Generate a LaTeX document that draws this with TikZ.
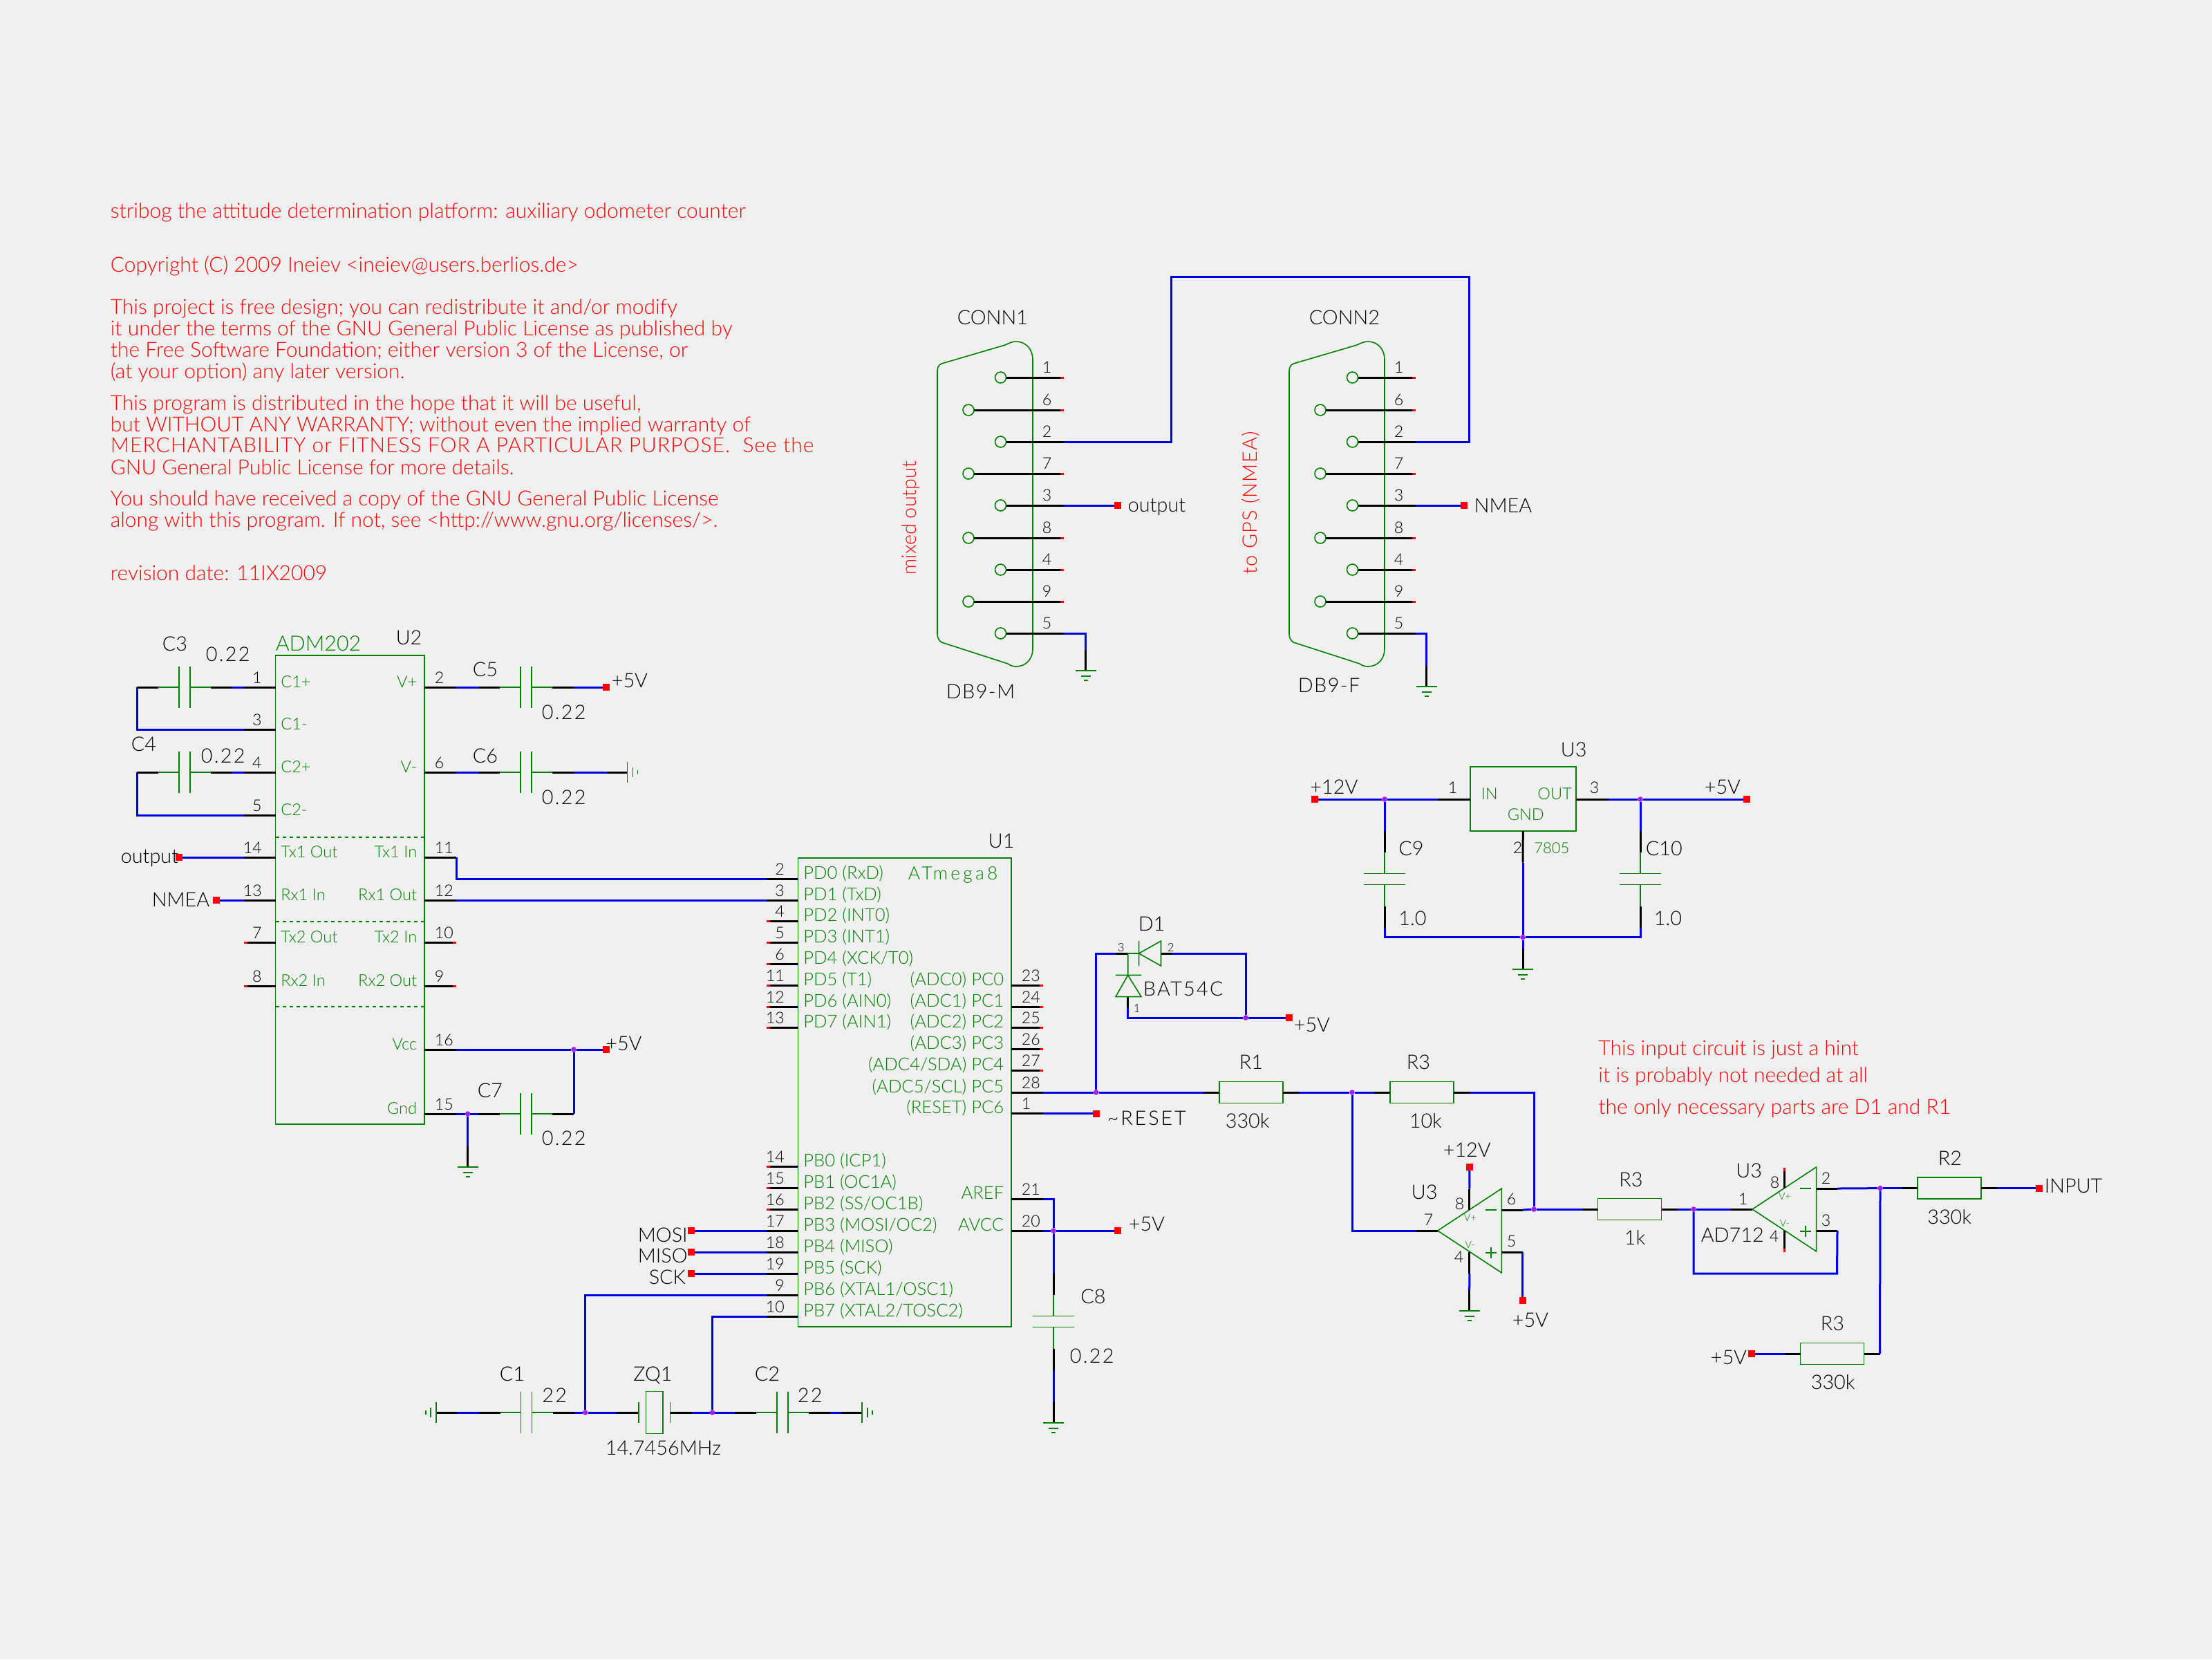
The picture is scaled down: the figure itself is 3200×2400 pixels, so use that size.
\documentclass[tikz,border=0pt]{standalone}
\usepackage{fontspec}
\setmainfont{Lato Light}
\definecolor{sheetgray}{HTML}{F0F0F0}
\definecolor{netblue}{HTML}{0000E8}
\definecolor{symgreen}{HTML}{008000}
\definecolor{juncpurple}{HTML}{A020F0}

% pin on the left or right side of a chip: name, edge x, y, number, label
\newcommand{\pinl}[5]{
  \coordinate (#1) at (#2-46,#3);
  \draw[pinline] (#2,#3) -- (#1);
  \node[pinnum, anchor=base east] (#1N) at (#2-19,#3-6) {#4};
  \node[txtgreen] (#1T) at (#2+7,#3) {#5};
}
\newcommand{\pinr}[5]{
  \coordinate (#1) at (#2+46,#3);
  \draw[pinline] (#2,#3) -- (#1);
  \node[pinnum] (#1N) at (#2+14,#3-6) {#4};
  \node[txtgreen, anchor=base east] (#1T) at (#2-10,#3) {#5};
}
% capacitors: name, centre x, centre y
\newcommand{\caph}[3]{
  \coordinate (#1L) at (#2-69,#3);
  \coordinate (#1R) at (#2+69,#3);
  \draw[pinline] (#1L) -- (#2-38,#3) (#2+38,#3) -- (#1R);
  \draw[sym] (#2-38,#3) -- (#2-8,#3) (#2-8,#3-30) -- (#2-8,#3+30);
  \draw[sym] (#2+38,#3) -- (#2+8,#3) (#2+8,#3-30) -- (#2+8,#3+30);
}
\newcommand{\capv}[3]{
  \coordinate (#1T) at (#2,#3-70);
  \coordinate (#1B) at (#2,#3+70);
  \draw[pinline] (#1T) -- (#2,#3-39) (#2,#3+39) -- (#1B);
  \draw[sym] (#2,#3-39) -- (#2,#3-8) (#2-30,#3-8) -- (#2+30,#3-8);
  \draw[sym] (#2,#3+39) -- (#2,#3+8) (#2-30,#3+8) -- (#2+30,#3+8);
}
% resistor: name, centre x, y
\newcommand{\resh}[3]{
  \node[resbox] (#1) at (#2,#3) {};
  \draw[pinline] (#1.west) -- ++(-23,0) coordinate (#1L);
  \draw[pinline] (#1.east) -- ++(23,0) coordinate (#1R);
}
% ground: name, x, y of the long bar
\newcommand{\gndd}[3]{
  \coordinate (#1) at (#2,#3-30);
  \draw[pinline] (#1) -- (#2,#3);
  \draw[sym] (#2-15,#3) -- (#2+15,#3) (#2-7,#3+8) -- (#2+7,#3+8) (#2-3,#3+14) -- (#2+3,#3+14);
}
\newcommand{\gndr}[3]{
  \coordinate (#1) at (#2-30,#3);
  \draw[pinline] (#1) -- (#2,#3);
  \draw[sym] (#2,#3-15) -- (#2,#3+15) (#2+8,#3-7) -- (#2+8,#3+7) (#2+15,#3-3) -- (#2+15,#3+3);
}
\newcommand{\gndl}[3]{
  \coordinate (#1) at (#2+30,#3);
  \draw[pinline] (#1) -- (#2,#3);
  \draw[sym] (#2,#3-15) -- (#2,#3+15) (#2-8,#3-7) -- (#2-8,#3+7) (#2-15,#3-3) -- (#2-15,#3+3);
}
% opamp: name, tip x, tip y
\newcommand{\opamp}[3]{
  \draw[sym] (#2,#3) -- (#2+92.6,#3-61) -- (#2+92.6,#3+61) -- cycle;
  \draw[sym] (#2+69,#3-30) -- (#2+85,#3-30) (#2+69,#3+32) -- (#2+85,#3+32) (#2+77,#3+24) -- (#2+77,#3+40);
  \coordinate (#1IN) at (#2-31,#3);
  \coordinate (#1A) at (#2+123,#3-30);
  \coordinate (#1B) at (#2+123,#3+31);
  \coordinate (#1VP) at (#2+46,#3-60.5);
  \coordinate (#1VM) at (#2+46,#3+62);
  \draw[pinline] (#1IN) -- (#2,#3);
  \draw[pinline] (#2+92.6,#3-30) -- (#1A);
  \draw[pinline] (#2+92.6,#3+31) -- (#1B);
  \draw[pinline] (#2+46,#3-30) -- (#1VP);
  \draw[pinline] (#2+46,#3+31) -- (#1VM);
  \node[txttiny] (#1TP) at (#2+47,#3-19) {V+};
  \node[txttiny] (#1TM) at (#2+47,#3+20) {V-};
}

\begin{document}
\begin{tikzpicture}[
    x=0.25pt, y=-0.25pt,
    pinline/.style={draw=black, line width=0.75pt},
    opentip/.style={draw=red, line width=0.75pt},
    wire/.style={draw=netblue, line width=0.75pt},
    sym/.style={draw=symgreen, line width=0.4pt},
    chip/.style={draw=symgreen, line width=0.4pt, inner sep=0pt, outer sep=0pt, anchor=north west},
    resbox/.style={draw=symgreen, line width=0.4pt, inner sep=0pt, outer sep=0pt, minimum width=23pt, minimum height=7.75pt},
    term/.style={fill=red, inner sep=0pt, outer sep=0pt, minimum size=2.5pt},
    junc/.style={circle, fill=juncpurple, inner sep=0pt, outer sep=0pt, minimum size=1.9pt},
    txtblack/.style={text=black, inner sep=0pt, anchor=base west, font=\fontsize{7.2}{9}\selectfont},
    txtspace/.style={font=\fontsize{7.2}{9}\selectfont\addfontfeature{LetterSpace=#1}},
    txtred/.style={text=red, inner sep=0pt, anchor=base west, font=\fontsize{7.5}{9}\selectfont},
    txtgreen/.style={text=symgreen, inner sep=0pt, anchor=base west, font=\fontsize{5.9}{7}\selectfont},
    txttiny/.style={text=symgreen, inner sep=0pt, font=\fontsize{3.6}{5}\selectfont},
    pinnum/.style={text=black, inner sep=0pt, anchor=base west, font=\fontsize{5.8}{7}\selectfont}
  ]
  \fill[sheetgray] (0,0) rectangle (3200,2400);

  % header text
  \node[txtred] (TITLE) at (159,315.5) {stribog the attitude determination platform: auxiliary odometer counter};
  \node[txtred] (COPY) at (159,393) {Copyright (C) 2009 Ineiev <ineiev@users.berlios.de>};
  \node[txtred] (LICA) at (159,454) {This project is free design; you can redistribute it and/or modify};
  \node[txtred] (LICB) at (159,485) {it under the terms of the GNU General Public License as published by};
  \node[txtred] (LICC) at (159,516) {the Free Software Foundation; either version 3 of the License, or};
  \node[txtred] (LICD) at (159,547) {(at your option) any later version.};
  \node[txtred] (LICE) at (159,593) {This program is distributed in the hope that it will be useful,};
  \node[txtred] (LICF) at (159,624) {but WITHOUT ANY WARRANTY; without even the implied warranty of};
  \node[txtred, font=\fontsize{7.5}{9}\selectfont\addfontfeature{LetterSpace=3.5}] (LICG) at (159,654) {MERCHANTABILITY or FITNESS FOR A PARTICULAR PURPOSE.\ \ See the};
  \node[txtred] (LICH) at (159,686) {GNU General Public License for more details.};
  \node[txtred] (LICI) at (159,731) {You should have received a copy of the GNU General Public License};
  \node[txtred] (LICJ) at (159,762) {along with this program. If not, see <http://www.gnu.org/licenses/>.};
  \node[txtred] (REVDATE) at (159,839) {revision date: 11IX2009};

  % connectors
  \foreach \c/\dx in {A/0,B/509}{
    \draw[sym] (1356+\dx,917) -- (1356+\dx,537) .. controls (1356+\dx,531) and (1358+\dx,528) .. (1362+\dx,526)
      -- (1454+\dx,499) .. controls (1462+\dx,495) and (1466+\dx,494) .. (1470+\dx,494)
      .. controls (1484+\dx,494) and (1494+\dx,505) .. (1494+\dx,520) -- (1494+\dx,939)
      .. controls (1494+\dx,953) and (1484+\dx,964) .. (1470+\dx,964)
      .. controls (1466+\dx,964) and (1462+\dx,963) .. (1458+\dx,960)
      -- (1362+\dx,929) .. controls (1358+\dx,926) and (1356+\dx,922) .. (1356+\dx,917);
    \foreach \num/\y/\cx in {1/546/1447.5,6/593/1401,2/639/1447.5,7/685/1401,3/731/1447.5,8/778/1401,4/824/1447.5,9/870/1401,5/916/1447.5}{
      \coordinate (CONN\c\num) at (1539+\dx,\y);
      \draw[sym] (\cx+\dx,\y) circle [radius=2pt];
      \draw[pinline] (\cx+8+\dx,\y) -- (CONN\c\num);
      \node[pinnum] (CONN\c\num N) at (1507+\dx,\y-7) {\num};
    }
    \foreach \num/\y in {1/546,6/593,7/685,8/778,4/824,9/870}{
      \draw[opentip] (CONN\c\num) -- ++(-5,0);
    }
  }
  \node[txtblack] (CONNAT) at (1384,469) {CONN1};
  \node[txtblack] (CONNBT) at (1893,469) {CONN2};
  \node[txtblack, txtspace=5] (DBM) at (1368,1010) {DB9-M};
  \node[txtblack, txtspace=5] (DBF) at (1877,1001) {DB9-F};
  \node[txtred, font=\fontsize{7.2}{9}\selectfont, rotate=90] (MIXED) at (1325,832) {mixed output};
  \node[txtred, txtspace=4.5, rotate=90] (TOGPS) at (1818,831) {to GPS (NMEA)};
  \coordinate (JOGA) at (1694,400);
  \coordinate (JOGB) at (2125,400);
  \draw[wire] (CONNA2) -| (JOGA) -- (JOGB) |- (CONNB2);
  \node[term] (TOUTC) at (1617,731) {};
  \node[term] (TNMEAC) at (2118,731) {};
  \draw[wire] (CONNA3) -- (TOUTC);
  \draw[wire] (CONNB3) -- (TNMEAC);
  \node[txtblack] (LOUTC) at (1631,740) {output};
  \node[txtblack] (LNMEAC) at (2132,741) {NMEA};
  \gndd{GNDA}{1570.6}{970}
  \gndd{GNDB}{2063.6}{993}
  \draw[wire] (CONNA5) -| (GNDA);
  \draw[wire] (CONNB5) -| (GNDB);

  % ADM202
  \node[chip, minimum width=53.9pt, minimum height=169.5pt] (U2) at (398.5,948) {};
  \draw[sym, dash pattern=on 1.4pt off 1.1pt] (398.5,1211) -- (614,1211) (398.5,1333) -- (614,1333) (398.5,1456) -- (614,1456);
  \node[txtgreen, font=\fontsize{7.6}{9}\selectfont] (U2NAME) at (398,941) {ADM202};
  \node[txtblack] (U2REF) at (572,932.6) {U2};
  \pinl{U2CAP}{398.5}{994}{1}{C1+}
  \pinl{U2CAM}{398.5}{1055}{3}{C1-}
  \pinl{U2CBP}{398.5}{1117}{4}{C2+}
  \pinl{U2CBM}{398.5}{1179}{5}{C2-}
  \pinl{U2TXO}{398.5}{1240}{14}{Tx1 Out}
  \pinl{U2RXI}{398.5}{1302}{13}{Rx1 In}
  \pinl{U2TYO}{398.5}{1363.5}{7}{Tx2 Out}
  \pinl{U2RYI}{398.5}{1426}{8}{Rx2 In}
  \pinr{U2VP}{614}{994}{2}{V+}
  \pinr{U2VM}{614}{1117}{6}{V-}
  \pinr{U2TXI}{614}{1240}{11}{Tx1 In}
  \pinr{U2RXO}{614}{1302}{12}{Rx1 Out}
  \pinr{U2TYI}{614}{1363.5}{10}{Tx2 In}
  \pinr{U2RYO}{614}{1426}{9}{Rx2 Out}
  \pinr{U2VCC}{614}{1518}{16}{Vcc}
  \pinr{U2GND}{614}{1611}{15}{Gnd}
  \draw[opentip] (U2TYO) -- ++(5,0);
  \draw[opentip] (U2RYI) -- ++(5,0);
  \draw[opentip] (U2TYI) -- ++(-5,0);
  \draw[opentip] (U2RYO) -- ++(-5,0);
  \caph{C3}{267}{994}
  \caph{C4}{267}{1117}
  \caph{C5}{761}{994}
  \caph{C6}{761}{1117}
  \caph{C7}{761}{1611}
  \node[txtblack] (C3N) at (234,941) {C3};
  \node[txtblack, txtspace=8] (C3V) at (297,956) {0.22};
  \node[txtblack] (C4N) at (189,1086) {C4};
  \node[txtblack, txtspace=8] (C4V) at (290,1103) {0.22};
  \node[txtblack] (C5N) at (683,978.6) {C5};
  \node[txtblack, txtspace=8] (C5V) at (783,1040) {0.22};
  \node[txtblack] (C6N) at (683,1103) {C6};
  \node[txtblack, txtspace=8] (C6V) at (783,1163.5) {0.22};
  \node[txtblack] (C7N) at (690,1587) {C7};
  \node[txtblack, txtspace=8] (C7V) at (783,1656.7) {0.22};
  \draw[wire] (C3R) -- (U2CAP);
  \draw[wire] (C3L) |- (U2CAM);
  \draw[wire] (C4R) -- (U2CBP);
  \draw[wire] (C4L) |- (U2CBM);
  \node[term] (TPWA) at (877,994) {};
  \node[txtblack] (LPWA) at (884,994) {+5V};
  \draw[wire] (U2VP) -- (C5L);
  \draw[wire] (C5R) -- (TPWA);
  \gndr{GNDCS}{907.5}{1117}
  \draw[wire] (U2VM) -- (C6L);
  \draw[wire] (C6R) -- (GNDCS);
  \node[term] (TOUTU) at (259,1240) {};
  \node[term] (TNMEAU) at (313,1302) {};
  \node[txtblack] (LOUTU) at (174,1248.6) {output};
  \node[txtblack] (LNMEAU) at (219,1311) {NMEA};
  \draw[wire] (TOUTU) -- (U2TXO);
  \draw[wire] (TNMEAU) -- (U2RXI);
  \node[junc] (JVCC) at (830,1518) {};
  \node[junc] (JGND) at (676.6,1611) {};
  \node[term] (TPWB) at (877,1518) {};
  \node[txtblack] (LPWB) at (875.5,1519) {+5V};
  \draw[wire] (U2VCC) -- (JVCC);
  \draw[wire] (JVCC) -- (TPWB);
  \draw[wire] (U2GND) -- (JGND);
  \draw[wire] (JGND) -- (C7L);
  \draw[wire] (C7R) -- (JVCC);
  \gndd{GNDU}{676.6}{1688}
  \draw[wire] (JGND) -- (GNDU);

  % ATmega8
  \node[chip, minimum width=77.1pt, minimum height=169.6pt] (U1) at (1154.6,1240.7) {};
  \node[txtgreen, font=\fontsize{6.6}{8}\selectfont\addfontfeature{LetterSpace=16}] (U1NAME) at (1313,1272) {ATmega8};
  \node[txtblack] (U1REF) at (1429,1226) {U1};
  \begin{scope}[txtgreen/.append style={font=\fontsize{6.4}{8}\selectfont}]
    \pinl{U1PDA}{1154.6}{1271}{2}{PD0 (RxD)}
    \pinl{U1PDB}{1154.6}{1302}{3}{PD1 (TxD)}
    \pinl{U1PDC}{1154.6}{1332.5}{4}{PD2 (INT0)}
    \pinl{U1PDD}{1154.6}{1363.6}{5}{PD3 (INT1)}
    \pinl{U1PDE}{1154.6}{1394.7}{6}{PD4 (XCK/T0)}
    \pinl{U1PDF}{1154.6}{1425}{11}{PD5 (T1)}
    \pinl{U1PDG}{1154.6}{1456}{12}{PD6 (AIN0)}
    \pinl{U1PDH}{1154.6}{1486.6}{13}{PD7 (AIN1)}
    \pinl{U1PBA}{1154.6}{1687.6}{14}{PB0 (ICP1)}
    \pinl{U1PBB}{1154.6}{1718.7}{15}{PB1 (OC1A)}
    \pinl{U1PBC}{1154.6}{1749}{16}{PB2 (SS/OC1B)}
    \pinl{U1PBD}{1154.6}{1780}{17}{PB3 (MOSI/OC2)}
    \pinl{U1PBE}{1154.6}{1811}{18}{PB4 (MISO)}
    \pinl{U1PBF}{1154.6}{1842}{19}{PB5 (SCK)}
    \pinl{U1PBG}{1154.6}{1873}{9}{PB6 (XTAL1/OSC1)}
    \pinl{U1PBH}{1154.6}{1904}{10}{PB7 (XTAL2/TOSC2)}
    \pinr{U1PCA}{1463}{1425}{23}{(ADC0) PC0}
    \pinr{U1PCB}{1463}{1456}{24}{(ADC1) PC1}
    \pinr{U1PCC}{1463}{1486.6}{25}{(ADC2) PC2}
    \pinr{U1PCD}{1463}{1517.7}{26}{(ADC3) PC3}
    \pinr{U1PCE}{1463}{1548.8}{27}{(ADC4/SDA) PC4}
    \pinr{U1PCF}{1463}{1580}{28}{(ADC5/SCL) PC5}
    \pinr{U1PCG}{1463}{1610.5}{1}{(RESET) PC6}
    \pinr{U1AREF}{1463}{1734}{21}{AREF}
    \pinr{U1AVCC}{1463}{1780}{20}{AVCC}
  \end{scope}
  \foreach \p in {U1PDC,U1PDD,U1PDE,U1PDF,U1PDG,U1PDH,U1PBA,U1PBB,U1PBC}{
    \draw[opentip] (\p) -- ++(5,0);
  }
  \foreach \p in {U1PCA,U1PCB,U1PCC,U1PCD,U1PCE}{
    \draw[opentip] (\p) -- ++(-5,0);
  }
  \draw[wire] (U2TXI) |- (U1PDA);
  \draw[wire] (U2RXO) -- (U1PDB);
  \node[term] (TMOSI) at (999.6,1780) {};
  \node[term] (TMISO) at (999.6,1811) {};
  \node[term] (TSCK) at (999.6,1842) {};
  \node[txtblack] (LMOSI) at (922,1796) {MOSI};
  \node[txtblack] (LMISO) at (922,1826.7) {MISO};
  \node[txtblack] (LSCK) at (938,1857) {SCK};
  \draw[wire] (TMOSI) -- (U1PBD);
  \draw[wire] (TMISO) -- (U1PBE);
  \draw[wire] (TSCK) -- (U1PBF);
  \node[term] (TRESET) at (1585.8,1610.5) {};
  \node[txtblack, txtspace=10] (LRESET) at (1601,1627) {\textasciitilde{}RESET};
  \draw[wire] (U1PCG) -- (TRESET);
  \node[junc] (JAVCC) at (1524,1780) {};
  \node[term] (TPWC) at (1617,1780) {};
  \node[txtblack] (LPWC) at (1632,1780) {+5V};
  \draw[wire] (U1AVCC) -- (JAVCC);
  \draw[wire] (JAVCC) -- (TPWC);
  \draw[wire] (U1AREF) -| (JAVCC);
  \capv{C8}{1524}{1911.6}
  \node[txtblack] (C8N) at (1562.5,1885) {C8};
  \node[txtblack, txtspace=8] (C8V) at (1547,1971) {0.22};
  \gndd{GNDC}{1524}{2058}
  \draw[wire] (JAVCC) -- (C8T);
  \draw[wire] (C8B) -- (GNDC);

  % crystal
  \caph{C1}{761.5}{2043}
  \caph{C2}{1132}{2043}
  \node[txtblack] (C1N) at (722,1997) {C1};
  \node[txtblack, txtspace=8] (C1V) at (783.5,2028) {22};
  \node[txtblack] (C2N) at (1091,1997) {C2};
  \node[txtblack, txtspace=8] (C2V) at (1153,2028) {22};
  \node[draw=symgreen, line width=0.4pt, inner sep=0pt, outer sep=0pt, minimum width=6.15pt, minimum height=15.25pt] (ZQ1) at (946.7,2043) {};
  \coordinate (ZQL) at (892,2043);
  \coordinate (ZQR) at (1001,2043);
  \draw[pinline] (ZQL) -- (924,2043) (969.5,2043) -- (ZQR);
  \draw[sym] (924,2028) -- (924,2058) (969.5,2028) -- (969.5,2058);
  \node[txtblack] (ZQT) at (915.5,1997) {ZQ1};
  \node[txtblack] (ZQV) at (875,2104) {14.7456MHz};
  \node[junc] (JXA) at (846.7,2043) {};
  \node[junc] (JXB) at (1030.5,2043) {};
  \gndl{GNDXA}{631}{2043}
  \gndr{GNDXB}{1246.7}{2043}
  \draw[wire] (GNDXA) -- (C1L);
  \draw[wire] (C1R) -- (JXA);
  \draw[wire] (JXA) -- (ZQL);
  \draw[wire] (ZQR) -- (JXB);
  \draw[wire] (JXB) -- (C2L);
  \draw[wire] (C2R) -- (GNDXB);
  \draw[wire] (U1PBG) -| (JXA);
  \draw[wire] (U1PBH) -| (JXB);

  % diode
  \coordinate (DPC) at (1614.4,1379);
  \coordinate (DPB) at (1695.5,1379);
  \coordinate (DPA) at (1631.7,1458);
  \draw[pinline] (DPC) -- (1631.7,1379) (1679.5,1379) -- (DPB) (1631.7,1441.6) -- (DPA);
  \draw[sym] (1631.7,1379) -- (1647.6,1379) (1647.6,1361) -- (1647.6,1397) (1647.6,1379) -- (1679.5,1361) -- (1679.5,1397) -- cycle;
  \draw[sym] (1631.7,1379) -- (1631.7,1410.5) (1614,1410.5) -- (1651,1410.5) (1631.7,1410.5) -- (1614,1441.6) -- (1651,1441.6) -- cycle;
  \node[txtblack] (D1T) at (1646,1346) {D1};
  \node[txtblack, txtspace=8] (D1V) at (1653,1440.7) {BAT54C};
  \node[pinnum, font=\fontsize{4.2}{5}\selectfont] (DNC) at (1616,1376) {3};
  \node[pinnum, font=\fontsize{4.2}{5}\selectfont] (DNB) at (1688,1376) {2};
  \node[pinnum, font=\fontsize{4.2}{5}\selectfont] (DNA) at (1639,1464) {1};
  \node[junc] (JPCF) at (1585.8,1580) {};
  \node[junc] (JDIO) at (1802,1472) {};
  \node[term] (TPWD) at (1865,1472) {};
  \node[txtblack] (LPWD) at (1871,1492) {+5V};
  \draw[wire] (JPCF) |- (DPC);
  \draw[wire] (DPB) -| (JDIO);
  \draw[wire] (DPA) |- (JDIO);
  \draw[wire] (JDIO) -- (TPWD);

  % regulator
  \node[chip, minimum width=38.3pt, minimum height=23.25pt] (U3) at (2126.7,1109) {};
  \node[txtblack] (U3REF) at (2257,1094) {U3};
  \node[txtgreen] (U3IN) at (2142,1156) {IN};
  \node[txtgreen, anchor=base east] (U3OUT) at (2274.7,1156) {OUT};
  \node[txtgreen] (U3GND) at (2180,1186.7) {GND};
  \node[txtgreen, font=\fontsize{5.5}{7}\selectfont] (U3NAME) at (2218.6,1234) {7805};
  \coordinate (U3PA) at (2079.8,1156);
  \coordinate (U3PC) at (2327,1156);
  \coordinate (U3PB) at (2203,1247.7);
  \draw[pinline] (U3.west |- U3PA) -- (U3PA);
  \draw[pinline] (U3.east |- U3PC) -- (U3PC);
  \draw[pinline] (U3.south) -- (U3PB);
  \node[pinnum] (U3NA) at (2094,1147) {1};
  \node[pinnum] (U3NC) at (2299,1147) {3};
  \node[pinnum] (U3NB) at (2188,1234) {2};
  \node[term] (TPWV) at (1901.7,1156) {};
  \node[term] (TPWR) at (2526.7,1156) {};
  \node[txtblack] (LPWV) at (1894.6,1148) {+12V};
  \node[txtblack] (LPWR) at (2465,1148) {+5V};
  \node[junc] (JVIN) at (2003,1156) {};
  \node[junc] (JVOUT) at (2373,1156) {};
  \node[junc] (JREG) at (2203,1355.7) {};
  \capv{C9}{2003}{1271.5}
  \capv{C10}{2373}{1271.5}
  \node[txtblack] (C9N) at (2022.6,1237) {C9};
  \node[txtblack] (C9V) at (2022.6,1338) {1.0};
  \node[txtblack] (C10N) at (2380,1237) {C10};
  \node[txtblack] (C10V) at (2392,1338) {1.0};
  \gndd{GNDREG}{2203}{1402}
  \draw[wire] (TPWV) -- (JVIN);
  \draw[wire] (JVIN) -- (U3PA);
  \draw[wire] (U3PC) -- (JVOUT);
  \draw[wire] (JVOUT) -- (TPWR);
  \draw[wire] (JVIN) -- (C9T);
  \draw[wire] (JVOUT) -- (C10T);
  \draw[wire] (C9B) |- (JREG);
  \draw[wire] (C10B) |- (JREG);
  \draw[wire] (U3PB) -- (JREG);
  \draw[wire] (JREG) -- (GNDREG);

  % input circuit
  \resh{R1}{1810}{1580}
  \resh{R3B}{2056.75}{1580}
  \resh{R3A}{2357.5}{1749}
  \resh{R2}{2820}{1718.6}
  \resh{R3C}{2650.5}{1958}
  \node[txtblack] (R1N) at (1792,1546) {R1};
  \node[txtblack] (R1V) at (1772,1631.6) {330k};
  \node[txtblack] (R3BN) at (2034,1546) {R3};
  \node[txtblack] (R3BV) at (2038,1631) {10k};
  \node[txtblack] (R3AN) at (2341.5,1716) {R3};
  \node[txtblack] (R3AV) at (2349,1800) {1k};
  \node[txtblack] (R2N) at (2803,1685) {R2};
  \node[txtblack] (R2V) at (2787.5,1770) {330k};
  \node[txtblack] (R3CN) at (2633,1924) {R3};
  \node[txtblack] (R3CV) at (2619,2009) {330k};
  \node[junc] (JFB) at (1956,1580) {};
  \node[junc] (JOPA) at (2219,1749) {};
  \node[junc] (JOPB) at (2450,1749) {};
  \node[junc] (JOPC) at (2720,1718.6) {};
  \opamp{OPA}{2079.8}{1780}
  \opamp{OPB}{2535}{1749}
  \node[txtblack] (OPAT) at (2041,1734.6) {U3};
  \node[pinnum] (OPANH) at (2104,1749.6) {8};
  \node[pinnum] (OPANS) at (2059,1772) {7};
  \node[pinnum] (OPANX) at (2179,1742.5) {6};
  \node[pinnum] (OPANF) at (2179,1803) {5};
  \node[pinnum] (OPANQ) at (2103,1826) {4};
  \node[txtblack] (OPBT) at (2510.6,1703) {U3};
  \node[txtblack] (OPBV) at (2460,1796) {AD712};
  \node[pinnum] (OPBNA) at (2514,1742) {1};
  \node[pinnum] (OPBNB) at (2634,1712) {2};
  \node[pinnum] (OPBNC) at (2634,1773) {3};
  \node[pinnum] (OPBNH) at (2560,1718.6) {8};
  \node[pinnum] (OPBNQ) at (2559,1796) {4};
  \draw[opentip] (OPBVP) -- ++(0,5);
  \draw[opentip] (OPBVM) -- ++(0,-5);
  \node[term] (TPWE) at (2125.7,1688) {};
  \node[txtblack] (LPWE) at (2087,1673) {+12V};
  \node[term] (TPWF) at (2202.8,1881) {};
  \node[txtblack] (LPWF) at (2187,1919) {+5V};
  \node[term] (TPWG) at (2534,1958) {};
  \node[txtblack] (LPWG) at (2474,1973) {+5V};
  \node[term] (TINPUT) at (2950,1718.6) {};
  \node[txtblack] (LINPUT) at (2957,1725.7) {INPUT};
  \gndd{GNDOP}{2125.7}{1896}
  \draw[wire] (U1PCF) -- (JPCF);
  \draw[wire] (JPCF) -- (R1L);
  \draw[wire] (R1R) -- (JFB);
  \draw[wire] (JFB) -- (R3BL);
  \draw[wire] (JFB) |- (OPAIN);
  \draw[wire] (R3BR) -| (JOPA);
  \draw[wire] (OPAA) -- (JOPA);
  \draw[wire] (JOPA) -- (R3AL);
  \draw[wire] (R3AR) -- (JOPB);
  \draw[wire] (JOPB) -- (OPBIN);
  \draw[wire] (OPAB) -- (TPWF);
  \draw[wire] (OPAVP) -- (TPWE);
  \draw[wire] (OPAVM) -- (GNDOP);
  \coordinate (FBK) at (2657.5,1842);
  \draw[wire] (OPBB) -- (FBK) -| (JOPB);
  \draw[wire] (OPBA) -- (JOPC);
  \draw[wire] (JOPC) -- (R2L);
  \draw[wire] (R2R) -- (TINPUT);
  \draw[wire] (TPWG) -- (R3CL);
  \draw[wire] (R3CR) -- (JOPC);
  \node[txtred] (NOTEA) at (2311.6,1526) {This input circuit is just a hint};
  \node[txtred] (NOTEB) at (2311.6,1565) {it is probably not needed at all};
  \node[txtred] (NOTEC) at (2311.6,1611) {the only necessary parts are D1 and R1};
\end{tikzpicture}
\end{document}
